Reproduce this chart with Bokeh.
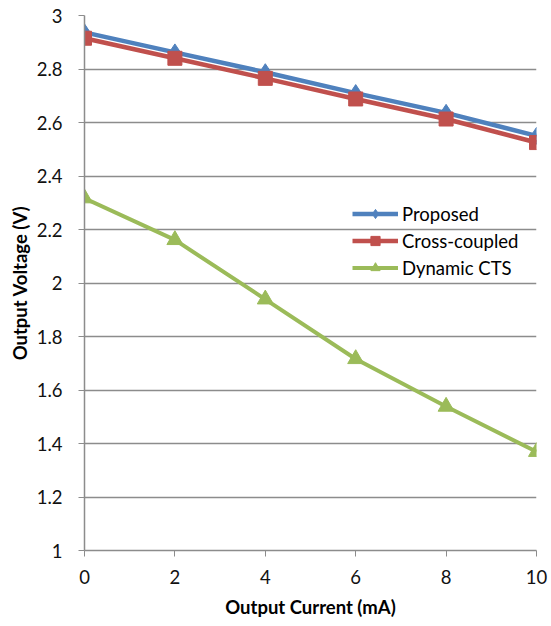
from bokeh.plotting import figure
from bokeh.models import Legend, LegendItem, FixedTicker, Range1d
from bokeh.embed import file_html
from bokeh.resources import INLINE

current_ma = [0, 2, 4, 6, 8, 10]
proposed = [2.937, 2.862, 2.788, 2.710, 2.636, 2.550]
cross_coupled = [2.915, 2.840, 2.765, 2.688, 2.613, 2.525]
dynamic_cts = [2.317, 2.161, 1.939, 1.716, 1.538, 1.369]

x_ticks = [0, 2, 4, 6, 8, 10]
y_ticks = [1, 1.2, 1.4, 1.6, 1.8, 2, 2.2, 2.4, 2.6, 2.8, 3]
y_tick_labels = ["1", "1.2", "1.4", "1.6", "1.8", "2", "2.2", "2.4", "2.6", "2.8", "3"]

FONT = "Lato"
GRID = "#8c8c8c"
FS = "18.5px"

p = figure(width=551, height=626, output_backend="svg", toolbar_location=None,
           x_range=Range1d(0, 10), y_range=Range1d(1, 3),
           min_border_left=84, min_border_right=15, min_border_top=15, min_border_bottom=76)
p.outline_line_color = None
p.background_fill_color = "white"

p.xaxis.ticker = FixedTicker(ticks=x_ticks)
p.yaxis.ticker = FixedTicker(ticks=y_ticks)
p.yaxis.major_label_overrides = {t: l for t, l in zip(y_ticks, y_tick_labels)}
p.xaxis.major_label_overrides = {t: str(t) for t in x_ticks}

for ax in (p.xaxis, p.yaxis):
    ax.axis_line_color = GRID
    ax.axis_line_width = 1.5
    ax.major_tick_line_color = GRID
    ax.major_tick_in = 0
    ax.major_tick_out = 6
    ax.minor_tick_line_color = None
    ax.major_label_text_font = FONT
    ax.major_label_text_font_size = FS
    ax.major_label_text_color = "#111111"
    ax.axis_label_text_font = FONT
    ax.axis_label_text_font_size = FS
    ax.axis_label_text_font_style = "bold"
    ax.axis_label_text_color = "#000000"

p.xaxis.axis_label = "Output Current (mA)"
p.yaxis.axis_label = "Output Voltage (V)"
p.xaxis.major_label_standoff = 13
p.yaxis.major_label_standoff = 16
p.xaxis.axis_label_standoff = 9
p.yaxis.axis_label_standoff = 3

p.xgrid.grid_line_color = None
p.ygrid.grid_line_color = GRID
p.ygrid.grid_line_width = 1.3

BLUE = "#4F81BD"
RED = "#C0504D"
GREEN = "#9BBB59"

l1 = p.line(current_ma, proposed, line_color=BLUE, line_width=4.5)
m1 = p.scatter(current_ma, proposed, marker="diamond", size=17, fill_color=BLUE, line_color=BLUE)
l2 = p.line(current_ma, cross_coupled, line_color=RED, line_width=4.5)
m2 = p.scatter(current_ma, cross_coupled, marker="square", size=14, fill_color=RED, line_color=RED)
l3 = p.line(current_ma, dynamic_cts, line_color=GREEN, line_width=4)
m3 = p.scatter(current_ma, dynamic_cts, marker="triangle", size=16, fill_color=GREEN, line_color=GREEN)

legend = Legend(items=[
    LegendItem(label="Proposed", renderers=[l1, m1]),
    LegendItem(label="Cross-coupled", renderers=[l2, m2]),
    LegendItem(label="Dynamic CTS", renderers=[l3, m3]),
], location=(268, 271))
legend.border_line_color = None
legend.background_fill_alpha = 0
legend.padding = 0
legend.margin = 0
legend.spacing = 4
legend.glyph_width = 46
legend.glyph_height = 23
legend.label_standoff = 4
legend.label_height = 23
legend.label_text_font = FONT
legend.label_text_font_size = FS
legend.label_text_color = "#000000"
p.add_layout(legend, "center")

open("out.html", "w").write(file_html(p, INLINE))
